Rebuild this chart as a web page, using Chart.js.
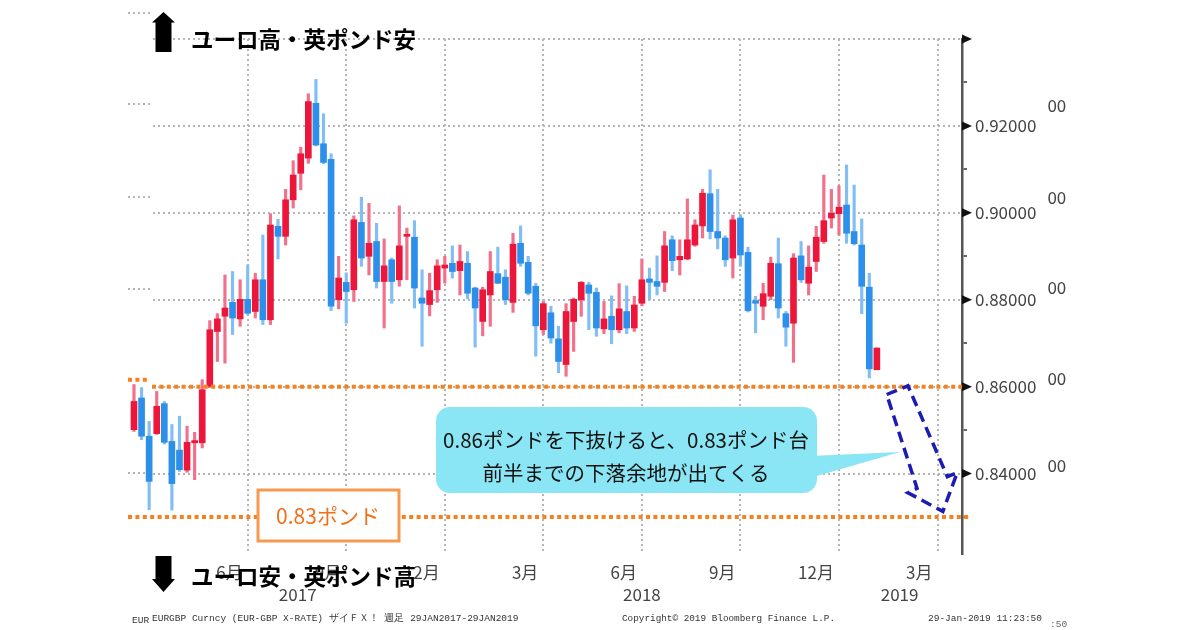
<!DOCTYPE html>
<html>
<head>
<meta charset="utf-8">
<script src="https://cdn.jsdelivr.net/npm/chart.js@4.4.1/dist/chart.umd.min.js"></script>
<style>
  html, body { margin: 0; padding: 0; background: #fff; }
  #wrap { width: 1200px; height: 630px; }
</style>
</head>
<body>
<div id="wrap"><canvas id="chart" width="1200" height="630"></canvas></div>
<script>
// EUR/GBP weekly candles (week index 0..98)
const opens = [
  0.8501, 0.8574, 0.8486, 0.8492, 0.8561, 0.8474, 0.8454, 0.8408, 0.8471, 0.8471,
  0.8601, 0.8727, 0.8762, 0.8794, 0.8756, 0.8801, 0.8773, 0.8846, 0.8754, 0.8969,
  0.8946, 0.9030, 0.9091, 0.9126, 0.9252, 0.9159, 0.9123, 0.8800, 0.8840, 0.8823,
  0.8978, 0.8900, 0.8934, 0.8842, 0.8892, 0.8846, 0.8946, 0.8944, 0.8804, 0.8789,
  0.8823, 0.8873, 0.8884, 0.8867, 0.8884, 0.8827, 0.8750, 0.8811, 0.8860, 0.8852,
  0.8794, 0.8930, 0.8886, 0.8831, 0.8731, 0.8770, 0.8710, 0.8651, 0.8750, 0.8800,
  0.8834, 0.8817, 0.8733, 0.8762, 0.8731, 0.8773, 0.8735, 0.8792, 0.8848, 0.8842,
  0.8840, 0.8938, 0.8892, 0.8894, 0.8926, 0.8970, 0.9044, 0.8957, 0.8942, 0.8896,
  0.8988, 0.8909, 0.8798, 0.8785, 0.8808, 0.8883, 0.8768, 0.8746, 0.8901, 0.8838,
  0.8888, 0.8934, 0.8988, 0.8998, 0.9018, 0.8957, 0.8926, 0.8829, 0.8639
];
const highs = [
  0.8605, 0.8598, 0.8520, 0.8589, 0.8566, 0.8513, 0.8532, 0.8509, 0.8495, 0.8616,
  0.8752, 0.8768, 0.8857, 0.8865, 0.8846, 0.8880, 0.8861, 0.8949, 0.8998, 0.8985,
  0.9054, 0.9120, 0.9151, 0.9274, 0.9307, 0.9228, 0.9136, 0.8900, 0.8862, 0.8993,
  0.9036, 0.9022, 0.8976, 0.8940, 0.8896, 0.9016, 0.8965, 0.8982, 0.8869, 0.8861,
  0.8892, 0.8900, 0.8924, 0.8926, 0.8911, 0.8829, 0.8829, 0.8911, 0.8921, 0.8869,
  0.8953, 0.8970, 0.8900, 0.8838, 0.8796, 0.8785, 0.8739, 0.8791, 0.8804, 0.8842,
  0.8840, 0.8827, 0.8796, 0.8809, 0.8837, 0.8832, 0.8808, 0.8894, 0.8873, 0.8901,
  0.8957, 0.8947, 0.8938, 0.9032, 0.8984, 0.9054, 0.9099, 0.9054, 0.8947, 0.8995,
  0.8995, 0.8921, 0.8808, 0.8838, 0.8898, 0.8942, 0.8773, 0.8906, 0.8934, 0.8924,
  0.8969, 0.9087, 0.9054, 0.9062, 0.9110, 0.9064, 0.8986, 0.8861, 0.8689
];
const lows = [
  0.8497, 0.8478, 0.8317, 0.8490, 0.8468, 0.8316, 0.8405, 0.8403, 0.8386, 0.8459,
  0.8598, 0.8658, 0.8654, 0.8720, 0.8739, 0.8766, 0.8758, 0.8743, 0.8743, 0.8894,
  0.8926, 0.9011, 0.9053, 0.9114, 0.9154, 0.9113, 0.8775, 0.8779, 0.8746, 0.8796,
  0.8877, 0.8857, 0.8827, 0.8735, 0.8792, 0.8831, 0.8846, 0.8781, 0.8693, 0.8763,
  0.8794, 0.8838, 0.8850, 0.8811, 0.8802, 0.8691, 0.8717, 0.8739, 0.8837, 0.8789,
  0.8771, 0.8877, 0.8811, 0.8670, 0.8720, 0.8700, 0.8632, 0.8624, 0.8681, 0.8762,
  0.8731, 0.8716, 0.8722, 0.8699, 0.8724, 0.8722, 0.8727, 0.8786, 0.8800, 0.8811,
  0.8819, 0.8867, 0.8857, 0.8892, 0.8923, 0.8942, 0.8940, 0.8917, 0.8877, 0.8850,
  0.8877, 0.8772, 0.8724, 0.8754, 0.8800, 0.8758, 0.8693, 0.8656, 0.8840, 0.8811,
  0.8865, 0.8930, 0.8965, 0.8949, 0.8930, 0.8926, 0.8768, 0.8620, 0.8639
];
const closes = [
  0.8566, 0.8486, 0.8382, 0.8555, 0.8472, 0.8377, 0.8409, 0.8472, 0.8476, 0.8593,
  0.8731, 0.8756, 0.8781, 0.8758, 0.8801, 0.8769, 0.8846, 0.8754, 0.8972, 0.8946,
  0.9030, 0.9087, 0.9136, 0.9256, 0.9156, 0.9116, 0.8785, 0.8850, 0.8819, 0.8984,
  0.8896, 0.8930, 0.8842, 0.8878, 0.8842, 0.8924, 0.8949, 0.8827, 0.8792, 0.8821,
  0.8878, 0.8880, 0.8865, 0.8888, 0.8815, 0.8781, 0.8823, 0.8865, 0.8838, 0.8800,
  0.8928, 0.8884, 0.8815, 0.8740, 0.8791, 0.8712, 0.8658, 0.8773, 0.8801, 0.8840,
  0.8815, 0.8735, 0.8756, 0.8731, 0.8779, 0.8735, 0.8788, 0.8846, 0.8840, 0.8831,
  0.8924, 0.8890, 0.8900, 0.8938, 0.8972, 0.9045, 0.8957, 0.8942, 0.8892, 0.8984,
  0.8903, 0.8775, 0.8792, 0.8814, 0.8884, 0.8781, 0.8737, 0.8896, 0.8846, 0.8875,
  0.8944, 0.8982, 0.8999, 0.9013, 0.8953, 0.8929, 0.8831, 0.8641, 0.8689
];

// time axis: quarter gridlines (in week index) and their labels
const tickWeeks = [15, 28, 41, 54, 67, 80, 93, 106];
const monthLabels = ['6月', '9月', '12月', '3月', '6月', '9月', '12月', '3月'];
const yearLabels = ['2017', '2018', '2019'];
const yearWeeks = [21.6, 67, 101];

// price axis
const priceTicks = [0.83, 0.84, 0.85, 0.86, 0.87, 0.88, 0.89, 0.90, 0.91, 0.92, 0.93, 0.94];
const labelledTicks = [0.84, 0.86, 0.88, 0.90, 0.92];
const majorTicks = [0.84, 0.86, 0.88, 0.90, 0.92, 0.94];

// annotations
const supportLevels = [0.86, 0.83];
const boxLabel = '0.83ポンド';
const noteLines = ['0.86ポンドを下抜けると、0.83ポンド台', '前半までの下落余地が出てくる'];
const upText = 'ユーロ高・英ポンド安';
const downText = 'ユーロ安・英ポンド高';
// dashed arrow outline in [week, price]
const arrowPath = [
  [99.3, 0.8582], [102.1, 0.8602], [107.3, 0.8393], [108.6, 0.8402],
  [106.7, 0.8313], [102.1, 0.8356], [103.3, 0.8366]
];

const RED = 'rgb(236, 22, 58)';
const BLUE = 'rgb(44, 143, 234)';
const RED_WICK = 'rgb(242, 112, 138)';
const BLUE_WICK = 'rgb(128, 190, 245)';
const isUp = i => closes[i] >= opens[i];
const isMajor = v => majorTicks.some(m => Math.abs(m - v) < 1e-6);

Chart.defaults.font.family = "'Noto Sans CJK JP', 'Noto Sans', sans-serif";

function dotted(ctx, x1, y1, x2, y2) {
  ctx.beginPath();
  ctx.moveTo(x1, y1);
  ctx.lineTo(x2, y2);
  ctx.stroke();
}

const overlay = {
  id: 'overlay',
  beforeDatasetsDraw(chart) {
    const {ctx, chartArea: a} = chart;
    ctx.save();
    // the left strip of the original has its own, shifted grid stubs
    ctx.fillStyle = '#fff';
    ctx.fillRect(a.left, a.top - 2, 24, a.bottom - a.top + 4);
    ctx.strokeStyle = '#b5b5b5';
    ctx.lineWidth = 2;
    ctx.setLineDash([2, 3]);
    [13, 104, 197, 289, 473].forEach(yy => dotted(ctx, a.left, yy, a.left + 22, yy));
    ctx.restore();
  },
  afterDatasetsDraw(chart) {
    const {ctx, chartArea: a, scales: {x, y}} = chart;
    ctx.save();
    // orange support lines
    ctx.strokeStyle = '#f5821f';
    ctx.lineWidth = 4;
    ctx.setLineDash([4, 3.4]);
    const y86 = y.getPixelForValue(supportLevels[0]);
    const y83 = y.getPixelForValue(supportLevels[1]);
    dotted(ctx, a.left + 24, y86, a.right, y86);
    dotted(ctx, a.left, y86 - 7, a.left + 22, y86 - 7);
    dotted(ctx, a.left, y83, a.right + 7, y83);
    ctx.setLineDash([]);
    // triangle markers on the price axis
    ctx.fillStyle = '#111';
    majorTicks.forEach(v => {
      const py = y.getPixelForValue(v);
      ctx.beginPath();
      ctx.moveTo(a.right, py - 4.5);
      ctx.lineTo(a.right + 10, py);
      ctx.lineTo(a.right, py + 4.5);
      ctx.closePath();
      ctx.fill();
    });
    ctx.restore();
  },
  afterDraw(chart) {
    const {ctx, scales: {x, y}} = chart;
    ctx.save();

    // year row
    ctx.fillStyle = '#444';
    ctx.font = "17px 'Noto Sans CJK JP'";
    ctx.textAlign = 'center';
    ctx.textBaseline = 'middle';
    yearLabels.forEach((t, i) => ctx.fillText(t, x.getPixelForValue(yearWeeks[i]), 595));

    // ghost label ends on the far right
    ctx.save();
    ctx.beginPath();
    ctx.rect(1047, 80, 40, 420);
    ctx.clip();
    ctx.textAlign = 'left';
    [106, 198, 288, 379, 466].forEach(yy => ctx.fillText('000', 1038, yy));
    ctx.restore();

    // black block arrows and captions
    ctx.fillStyle = '#000';
    ctx.beginPath();
    [[163.5, 12], [175, 22.5], [171.5, 22.5], [171.5, 52], [155.5, 52], [155.5, 22.5], [152, 22.5]]
      .forEach(([px, py], k) => k ? ctx.lineTo(px, py) : ctx.moveTo(px, py));
    ctx.closePath();
    ctx.fill();
    ctx.beginPath();
    [[163.5, 592], [175, 579], [171.5, 579], [171.5, 556], [155.5, 556], [155.5, 579], [152, 579]]
      .forEach(([px, py], k) => k ? ctx.lineTo(px, py) : ctx.moveTo(px, py));
    ctx.closePath();
    ctx.fill();
    ctx.font = "bold 22.5px 'Noto Sans CJK JP'";
    ctx.textAlign = 'left';
    ctx.fillText(upText, 191, 39);
    ctx.fillText(downText, 191, 576);

    // orange label box
    ctx.fillStyle = '#fff';
    ctx.fillRect(258, 490, 141, 51);
    ctx.strokeStyle = '#f59a50';
    ctx.lineWidth = 3;
    ctx.strokeRect(258, 490, 141, 51);
    ctx.fillStyle = '#f07018';
    ctx.font = "21px 'Noto Sans CJK JP'";
    ctx.textAlign = 'center';
    ctx.fillText(boxLabel, 328, 516);

    // cyan callout
    ctx.fillStyle = '#8ae5f5';
    ctx.beginPath();
    ctx.roundRect(436, 407, 381, 86, 14);
    ctx.fill();
    ctx.beginPath();
    ctx.moveTo(810, 456);
    ctx.lineTo(900, 452);
    ctx.lineTo(810, 478);
    ctx.closePath();
    ctx.fill();
    ctx.fillStyle = '#111';
    ctx.font = "20.5px 'Noto Sans CJK JP'";
    ctx.fillText(noteLines[0], 626, 440);
    ctx.fillText(noteLines[1], 626, 473);

    // dashed blue arrow
    ctx.strokeStyle = '#1c1cb4';
    ctx.lineWidth = 3.5;
    ctx.setLineDash([11, 6]);
    ctx.lineJoin = 'miter';
    ctx.beginPath();
    arrowPath.forEach(([wk, v], k) => {
      const px = x.getPixelForValue(wk), py = y.getPixelForValue(v);
      k ? ctx.lineTo(px, py) : ctx.moveTo(px, py);
    });
    ctx.closePath();
    ctx.stroke();
    ctx.setLineDash([]);

    // Bloomberg footer
    ctx.fillStyle = '#333';
    ctx.font = "9.5px 'Liberation Mono'";
    ctx.textAlign = 'left';
    ctx.fillText('EUR', 132, 620);
    ctx.fillText('EURGBP Curncy (EUR-GBP X-RATE) ザイＦＸ！ 週足 29JAN2017-29JAN2019', 152, 618, 381);
    ctx.fillText('Copyright© 2019 Bloomberg Finance L.P.', 622, 618, 213);
    ctx.fillText('29-Jan-2019 11:23:50', 928, 618, 114);
    ctx.fillStyle = '#666';
    ctx.fillText(':50', 1050, 624);
    ctx.restore();
  }
};

const weekIdx = opens.map((_, i) => i);

new Chart(document.getElementById('chart'), {
  type: 'bar',
  data: {
    datasets: [
      {
        label: 'body',
        data: weekIdx.map(i => ({x: i, y: [opens[i], closes[i]]})),
        backgroundColor: c => isUp(c.dataIndex) ? RED : BLUE,
        borderWidth: 0,
        grouped: false,
        barPercentage: 1,
        categoryPercentage: 1,
        maxBarThickness: 6,
        minBarLength: 2
      },
      {
        label: 'wick',
        data: weekIdx.map(i => ({x: i, y: [lows[i], highs[i]]})),
        backgroundColor: c => isUp(c.dataIndex) ? RED_WICK : BLUE_WICK,
        borderWidth: 0,
        grouped: false,
        barPercentage: 1,
        categoryPercentage: 1,
        maxBarThickness: 2.5
      }
    ]
  },
  options: {
    responsive: false,
    animation: false,
    layout: { padding: { left: 128, top: 39, right: 148, bottom: 36 } },
    plugins: { legend: { display: false }, tooltip: { enabled: false } },
    scales: {
      x: {
        type: 'linear',
        min: -0.79,
        max: 109.23,
        offset: false,
        afterBuildTicks: scale => { scale.ticks = tickWeeks.map(v => ({value: v})); },
        afterFit: scale => { scale.height = 40; },
        grid: { offset: false, color: '#b5b5b5', lineWidth: 2, drawTicks: false },
        border: { display: false, dash: [2, 3] },
        ticks: {
          autoSkip: false,
          maxRotation: 0,
          align: 'end',
          labelOffset: -5,
          padding: 8,
          color: '#444',
          font: { size: 17 },
          callback: (v, i) => monthLabels[i]
        }
      },
      y: {
        position: 'right',
        min: 0.8215,
        max: 0.94,
        beginAtZero: false,
        afterBuildTicks: scale => { scale.ticks = priceTicks.map(v => ({value: v})); },
        afterFit: scale => { scale.width = 90; },
        grid: {
          color: c => isMajor(c.tick.value) ? '#b5b5b5' : 'rgba(0,0,0,0)',
          lineWidth: 2,
          tickLength: 5,
          tickWidth: 1.5,
          tickColor: c => isMajor(c.tick.value) ? 'rgba(0,0,0,0)' : '#333'
        },
        border: { display: true, color: '#555', width: 2.5, dash: [2, 3] },
        ticks: {
          padding: 8,
          color: '#444',
          font: { size: 17 },
          callback: v => labelledTicks.some(m => Math.abs(m - v) < 1e-6) ? v.toFixed(5) : ''
        }
      }
    }
  },
  plugins: [overlay]
});
</script>
</body>
</html>
